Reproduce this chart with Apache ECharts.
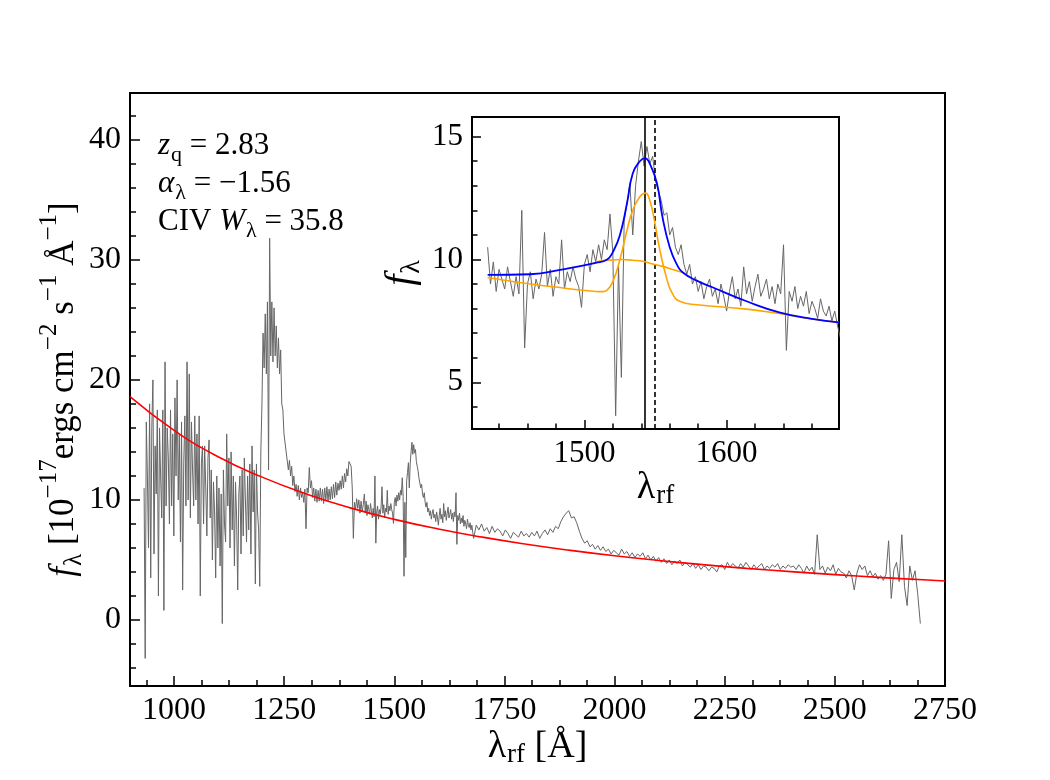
<!DOCTYPE html>
<html>
<head>
<meta charset="utf-8">
<script src="https://cdn.jsdelivr.net/npm/echarts@6/dist/echarts.min.js"></script>
<style>html,body{margin:0;padding:0;background:#fff}#c{width:1050px;height:780px}</style>
</head>
<body>
<div id="c"></div>
<script>
// ---------- DATA ----------
// Main spectrum, blue part (rest-frame Å grid start/step) and flux (1e-17 erg/s/cm2/Å)
const mainWaveStart = 932, mainWaveStep = 2.5;
const mainFluxA = [
  11.0, -3.2, 16.5, 12.0, 6.0, 18.0, 3.5, 16.0, 20.0, 5.5,
  14.5, 10.5, 17.5, 2.0, 16.0, 12.0, 8.5, 17.5, 0.8, 21.5,
  9.5, 16.0, 13.5, 8.0, 17.5, 9.5, 15.5, 7.0, 18.5, 12.0,
  20.0, 10.0, 15.5, 6.5, 16.5, 2.5, 13.0, 17.0, 9.5, 21.5,
  10.0, 20.5, 8.5, 16.5, 12.5, 9.5, 17.0, 10.0, 15.5, 8.0,
  17.0, 2.0, 13.0, 14.5, 8.0, 14.5, 11.0, 7.0, 13.5, 15.0,
  8.5, 12.5, 5.0, 11.5, 9.0, 3.5, 12.0, 6.0, 11.0, 4.5,
  10.5, -0.3, 12.5, 8.0, 6.5, 15.5, 9.5, 13.5, 6.0, 14.0,
  7.5, 12.0, 4.5, 11.5, 8.5, 2.5, 10.5, 12.0, 5.5, 12.5,
  7.0, 13.5, 10.0, 6.5, 12.0, 7.5, 13.0, 5.5, 14.5, 9.0,
  12.5, 3.0, 13.0, 9.0, 7.5, 2.8, 14.0, 18.0, 23.9, 21.0,
  25.5, 20.5, 26.5, 12.5, 31.8, 22.0, 26.5, 21.5, 26.0, 22.0,
  24.5, 21.0, 23.5, 20.5, 22.5, 18.0, 17.5, 15.5, 15.5, 14.0,
  14.0, 12.5, 13.3, 12.0, 12.8, 11.2, 12.0, 10.7, 11.3, 10.3,
  11.2, 10.0, 11.0, 10.2, 10.6, 9.8, 10.9, 7.6, 11.0, 10.6,
  12.7, 11.0, 11.6, 10.2, 11.0, 9.9, 10.9, 9.8, 10.8, 9.9,
  11.0, 9.9, 10.9, 9.7, 11.0, 10.0, 11.1, 9.9, 10.9, 10.0,
  11.1, 10.1, 11.3, 10.2, 11.5, 10.4, 11.4, 10.8, 11.6, 10.9,
  12.0, 11.0, 12.2, 11.5, 12.6, 12.0, 13.2, 13.3, 12.8, 11.0,
  6.8, 9.8, 9.2, 10.1, 9.3, 10.0, 8.9, 9.9, 9.0, 9.6
];
// CIV region (shown in inset and in main panel)
const insetWaveStart = 1432, insetWaveStep = 2;
const insetFlux = [
  10.5, 9.0, 9.9, 8.7, 9.6, 9.2, 8.8, 9.7, 9.1, 8.5,
  9.3, 8.6, 12.0, 6.4, 9.0, 9.5, 8.4, 9.2, 8.8, 9.4,
  11.1, 8.9, 9.6, 8.5, 9.3, 9.0, 10.8, 8.8, 9.5, 9.1,
  9.7, 9.2, 8.9, 8.05, 9.8, 10.2, 9.5, 10.4, 9.9, 10.6,
  10.0, 10.8, 10.4, 11.85, 10.3, 3.64, 9.8, 5.2, 11.6, 12.3,
  13.1, 11.0, 13.0, 14.0, 14.8, 13.8, 14.6, 13.9, 14.2, 13.2,
  12.8, 12.4, 11.8, 11.9, 11.0, 11.3, 10.5, 10.2, 10.6, 9.8,
  9.4, 9.8, 9.0, 9.3, 8.7, 9.1, 8.4, 8.9, 9.2, 8.5,
  8.8, 8.2, 9.0, 8.5, 7.9, 8.7, 9.3, 8.4, 8.8, 8.1,
  9.7, 8.6, 9.1, 8.3, 8.9, 9.4, 8.5, 8.8, 9.2, 8.4,
  8.9, 8.2, 9.0, 8.6, 10.6, 6.3, 8.7, 8.3, 8.9, 8.0,
  8.5, 8.1, 8.7, 7.8, 8.3, 8.0, 7.6, 8.4, 7.9, 7.7,
  8.1, 7.5, 7.9, 7.3, 6.8
];
// Red part of main spectrum
const tailWaveStart = 1686, tailWaveStep = 6;
const tailFlux = [
  7.9, 7.5, 8.0, 7.4, 7.7, 7.2, 7.8, 7.3, 7.6, 7.4,
  7.0, 7.5, 7.2, 6.8, 7.3, 7.1, 6.9, 7.4, 7.0, 7.2,
  6.9, 7.3, 7.0, 7.4, 6.8, 7.2, 7.5, 7.1, 7.6, 7.3,
  7.8, 7.6, 8.2, 8.6, 8.9, 9.1, 8.5, 8.6, 8.1, 7.4,
  6.8, 6.4, 6.6, 6.1, 6.3, 5.9, 6.2, 5.8, 6.1, 5.7,
  5.9, 5.5, 5.8, 5.6, 5.4, 5.9, 5.5, 5.7, 5.3, 5.6,
  5.2, 5.5, 5.3, 5.6, 5.1, 5.4, 5.0, 5.3, 4.9, 5.2,
  4.8, 5.1, 4.7, 5.0, 4.6, 4.9, 4.7, 5.0, 4.5, 4.8,
  4.6, 4.4, 4.7, 4.3, 4.6, 4.2, 4.5, 4.4, 4.1, 4.4,
  4.3, 4.0, 4.5, 4.6, 4.2, 4.8, 4.4, 4.7, 4.5, 4.3,
  4.7, 4.4, 4.8, 4.5, 4.2, 4.6, 4.3, 4.5, 4.7, 4.2,
  4.5, 4.3, 4.6, 4.4, 4.7, 4.2, 4.5, 4.3, 4.6, 4.4,
  4.5, 4.2, 4.6, 4.3, 3.9, 4.5, 4.1, 4.4, 3.8, 7.1,
  4.2, 4.5, 3.9, 4.4, 4.1, 4.6, 3.8, 4.3, 4.0, 3.9,
  3.5, 4.1, 3.7, 2.5, 3.9, 4.6, 4.2, 4.5, 3.7, 4.1,
  3.6, 3.9, 3.4, 3.7, 3.3, 3.8, 6.6, 1.8, 4.2, 4.8,
  3.2, 7.1, 2.8, 1.2, 4.5, 3.3, 4.1, 2.2, -0.3
];
// Power-law continuum (red)
const contWave = [900, 1000, 1100, 1200, 1300, 1400, 1500, 1600, 1700, 1800, 1900, 2000, 2100, 2200, 2300, 2400, 2500, 2600, 2700, 2750];
const contFlux = [18.6, 15.8, 13.6, 11.9, 10.5, 9.34, 8.38, 7.58, 6.90, 6.31, 5.80, 5.35, 4.96, 4.61, 4.30, 4.03, 3.78, 3.55, 3.35, 3.25];
// Inset model curves
const totalWave = [1432, 1462, 1485, 1508, 1516, 1520, 1525, 1530, 1534, 1539, 1542.5, 1546, 1551, 1555, 1560, 1565, 1569, 1579, 1590, 1614, 1637, 1660, 1679];
const totalFlux = [9.37, 9.40, 9.60, 9.86, 10.0, 10.3, 11.0, 12.3, 13.5, 14.0, 14.13, 13.9, 13.1, 11.7, 10.5, 9.8, 9.48, 9.14, 8.87, 8.30, 7.85, 7.58, 7.44];
const narrowWave = [1432, 1462, 1485, 1508, 1513, 1516, 1520, 1525, 1530, 1534, 1539, 1543, 1546, 1549.5, 1553, 1558, 1562, 1567, 1579, 1614, 1637, 1660, 1679];
const narrowFlux = [9.27, 9.00, 8.84, 8.70, 8.69, 8.75, 9.10, 10.0, 11.2, 12.0, 12.55, 12.7, 12.4, 11.5, 10.4, 9.2, 8.6, 8.3, 8.16, 7.98, 7.80, 7.58, 7.44];
const broadWave = [1506, 1512, 1520, 1526, 1534, 1541, 1548, 1555, 1562, 1569];
const broadFlux = [9.84, 9.95, 9.98, 10.0, 9.97, 9.93, 9.82, 9.72, 9.59, 9.47];
const lineMarks = [1542.3, 1549.6]; // solid: fitted peak, dashed: CIV rest
// Ticks
const mainXTicks = [1000, 1250, 1500, 1750, 2000, 2250, 2500, 2750];
const mainYTicks = [0, 10, 20, 30, 40];
const insetXTicks = [1500, 1600];
const insetYTicks = [5, 10, 15];
// Text
const annotationTexts = ['{it|z}{sub|q}{n| = 2.83}', '{it|α}{sub|λ}{n| = −1.56}', '{n|CIV }{it|W}{sub|λ}{n| = 35.8}'];
const mainXName = '{n|λ}{sub|rf}{n| [Å]}';
const mainYName = '{it|f}{sub|λ}{n| [10}{sup|−17}{n|ergs cm}{sup|−2}{n| s}{sup|−1}{n| Å}{sup|−1}{n|]}';
const insetXName = '{n|λ}{sub|rf}';
const insetYName = '{it|f}{sub|λ}';

// ---------- BUILD ----------
function grid(start, step, vals) { return vals.map((v, i) => [start + step * i, v]); }
function pairs(w, f) { return w.map((x, i) => [x, f[i]]); }
function minors(majors, sub, min, max) {
  const step = (majors[1] - majors[0]) / sub, out = [];
  for (let v = majors[0] - step; v >= min - 1e-9; v -= step) out.push(+v.toFixed(4));
  for (let v = majors[0] + step; v <= max + 1e-9; v += step) {
    const r = +v.toFixed(4);
    if (!majors.some(m => Math.abs(m - r) < 1e-6)) out.push(r);
  }
  return out.sort((a, b) => a - b);
}
const FF = '"Liberation Serif", "DejaVu Serif", serif';
const mainSpec = grid(mainWaveStart, mainWaveStep, mainFluxA)
  .concat(grid(insetWaveStart, insetWaveStep, insetFlux))
  .concat(grid(tailWaveStart, tailWaveStep, tailFlux));

const M = { xmin: 900, xmax: 2750, ymin: -5.5, ymax: 43.9 };
const I = { xmin: 1421, xmax: 1679, ymin: 3.1, ymax: 15.8 };

// rich styles emulating math sub/superscripts; colorKey 'color' for labels, 'fill' for graphic text
function richSet(S, colorKey, subDrop) {
  const s = Math.round(S * 0.7);
  const T = Math.round(S * 0.27), P = Math.round(S * (subDrop || 0.70));
  const base = (extra) => Object.assign({ fontFamily: FF, verticalAlign: 'top', [colorKey]: '#000' }, extra);
  return {
    n: base({ fontSize: S, lineHeight: S, padding: [T, 0, 0, 0] }),
    it: base({ fontSize: S, lineHeight: S, padding: [T, 0, 0, 0], fontStyle: 'italic' }),
    sub: base({ fontSize: s, lineHeight: s, padding: [P, 0, 0, 1] }),
    sup: base({ fontSize: s, lineHeight: s, padding: [0, 0, 0, 0] })
  };
}
const tickStyle = { color: '#000', width: 1.5 };
function axisPair(dim, gridIndex, lim, majors, sub, majorLen, minorLen, labelSize, margin, extra) {
  const minMax = dim === 'x' ? { min: lim.xmin, max: lim.xmax } : { min: lim.ymin, max: lim.ymax };
  const major = Object.assign({
    type: 'value', gridIndex, ...minMax,
    axisLine: { show: false, onZero: false }, splitLine: { show: false },
    axisTick: { show: true, inside: true, length: majorLen, lineStyle: tickStyle, customValues: majors },
    axisLabel: { customValues: majors, fontSize: labelSize, fontFamily: FF, color: '#000', margin,
      formatter: v => String(v) },
    nameMoveOverlap: false
  }, extra || {});
  const minor = {
    type: 'value', gridIndex, ...minMax,
    axisLine: { show: false, onZero: false }, splitLine: { show: false },
    axisTick: { show: true, inside: true, length: minorLen, lineStyle: tickStyle,
      customValues: minors(majors, sub, minMax.min, minMax.max) },
    axisLabel: { show: false }
  };
  if (dim === 'x') { major.position = 'bottom'; minor.position = 'bottom'; }
  else { major.position = 'left'; minor.position = 'left'; }
  return [major, minor];
}

const xAxes = [
  ...axisPair('x', 0, M, mainXTicks, 4, 10, 6, 32, 9, {
    name: mainXName, nameLocation: 'middle', nameGap: 32,
    nameTextStyle: { fontSize: 38, fontFamily: FF, color: '#000', rich: richSet(38, 'color', 0.6) }
  }),
  ...axisPair('x', 1, I, insetXTicks, 5, 9, 5.5, 31, 9, {
    name: insetXName, nameLocation: 'middle', nameGap: 30,
    nameTextStyle: { fontSize: 38, fontFamily: FF, color: '#000', rich: richSet(38, 'color', 0.6) }
  })
];
const yAxes = [
  ...axisPair('y', 0, M, mainYTicks, 5, 10, 6, 32, 9, {
    name: mainYName, nameLocation: 'middle', nameGap: 58, nameRotate: 90,
    nameTextStyle: { fontSize: 35, fontFamily: FF, color: '#000', rich: richSet(35, 'color') }
  }),
  ...axisPair('y', 1, I, insetYTicks, 5, 9, 5.5, 31, 9, {
    name: insetYName, nameLocation: 'middle', nameGap: 62, nameRotate: 90,
    nameTextStyle: { fontSize: 40, fontFamily: FF, color: '#000', rich: richSet(40, 'color') }
  })
];

const annRich = richSet(31, 'fill');

const option = {
  animation: false,
  backgroundColor: '#fff',
  grid: [
    { left: 130, top: 93, width: 815, height: 593, show: true, borderColor: '#000', borderWidth: 2, outerBoundsMode: 'none', containLabel: false },
    { left: 472, top: 117, width: 367, height: 312, show: true, borderColor: '#000', borderWidth: 2, backgroundColor: '#fff', outerBoundsMode: 'none', containLabel: false }
  ],
  xAxis: xAxes,
  yAxis: yAxes,
  series: [
    { type: 'line', xAxisIndex: 0, yAxisIndex: 0, data: mainSpec, showSymbol: false, symbol: 'none',
      lineStyle: { color: '#666666', width: 1 }, z: 2 },
    { type: 'line', xAxisIndex: 0, yAxisIndex: 0, data: pairs(contWave, contFlux), smooth: true, showSymbol: false, symbol: 'none',
      lineStyle: { color: '#ff0000', width: 1.6 }, z: 3 },
    { type: 'line', xAxisIndex: 2, yAxisIndex: 2, data: grid(insetWaveStart, insetWaveStep, insetFlux), showSymbol: false, symbol: 'none',
      lineStyle: { color: '#666666', width: 1 }, z: 4,
      markLine: { silent: true, symbol: 'none', label: { show: false },
        data: [ { xAxis: lineMarks[0], lineStyle: { color: '#000', width: 1.6, type: 'solid' } },
                { xAxis: lineMarks[1], lineStyle: { color: '#000', width: 1.6, type: [5, 3] } } ] } },
    { type: 'line', xAxisIndex: 2, yAxisIndex: 2, data: pairs(broadWave, broadFlux), smooth: true, showSymbol: false, symbol: 'none',
      lineStyle: { color: '#ffa500', width: 1.6 }, z: 5 },
    { type: 'line', xAxisIndex: 2, yAxisIndex: 2, data: pairs(narrowWave, narrowFlux), smooth: true, showSymbol: false, symbol: 'none',
      lineStyle: { color: '#ffa500', width: 1.6 }, z: 5 },
    { type: 'line', xAxisIndex: 2, yAxisIndex: 2, data: pairs(totalWave, totalFlux), smooth: true, showSymbol: false, symbol: 'none',
      lineStyle: { color: '#0000ff', width: 1.8 }, z: 6 }
  ],
  graphic: annotationTexts.map((t, i) => ({
    type: 'text', x: 158, y: 122 + i * 38, z: 10,
    style: { text: t, fill: '#000', fontSize: 31, fontFamily: FF, verticalAlign: 'top', rich: annRich }
  }))
};

const chart = echarts.init(document.getElementById('c'), null, { renderer: 'canvas' });
chart.setOption(option);
</script>
</body>
</html>
